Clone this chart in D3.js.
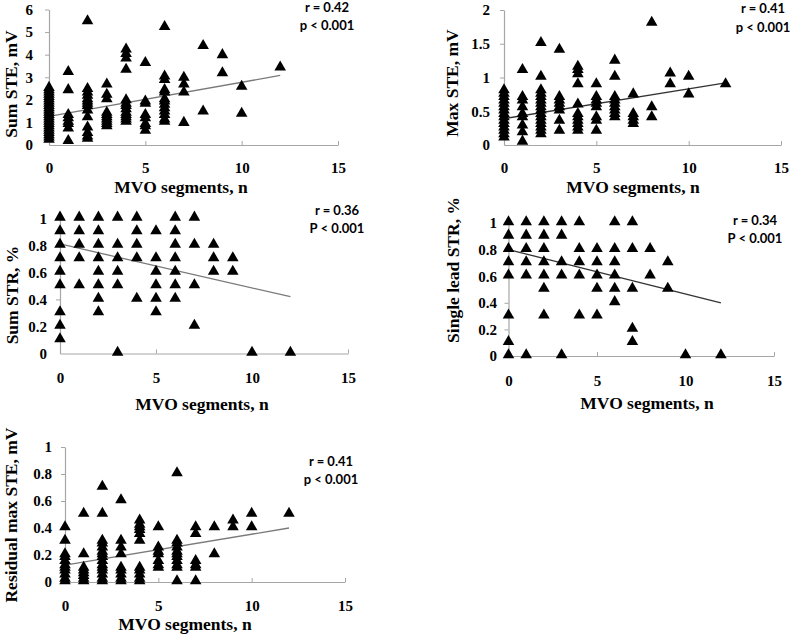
<!DOCTYPE html>
<html>
<head>
<meta charset="utf-8">
<script src="https://cdn.jsdelivr.net/npm/d3@7"></script>
<style>
  html, body { margin: 0; padding: 0; background: #fff; }
  svg { display: block; }
  .tick text { font-family: "Liberation Serif", "Times New Roman", serif; font-weight: bold; font-size: 15px; fill: #000; }
  .ttl { font-family: "Liberation Serif", "Times New Roman", serif; font-weight: bold; font-size: 17.5px; fill: #000; }
  .stat { font-family: Lato, "Open Sans", sans-serif; font-weight: bold; font-size: 13px; fill: #000; }
</style>
</head>
<body>
<svg id="chart" width="800" height="635"></svg>
<script>
// ---------------- DATA (x = MVO segments, values listed per x column) ----------------
const xTickValues = [0, 5, 10, 15];
const xAxisTitle = "MVO segments, n";

const sumSTE = [
  [0, [0.2,0.3,0.4,0.5,0.6,0.7,0.8,0.9,1.0,1.1,1.2,1.3,1.4,1.5,1.6,1.7,1.8,1.9,2.0,2.1,2.2,2.3,2.4,2.5]],
  [1, [3.2,2.4,1.3,1.15,1.0,0.9,0.7,0.15]],
  [2, [5.45,2.45,2.3,2.15,2.0,1.9,1.8,1.7,1.5,1.2,0.75,0.5,0.35,0.25]],
  [3, [2.65,2.2,2.0,1.4,1.3,1.2,1.1,1.0,0.9,0.8]],
  [4, [4.2,4.0,3.8,3.3,1.95,1.8,1.7,1.55,1.4,1.3,1.2,1.1,1.0]],
  [5, [3.6,1.9,1.8,1.3,1.15,0.9,0.8,0.6]],
  [6, [5.2,3.0,2.85,2.4,2.3,2.0,1.9,1.75,1.6,1.45,1.3,1.1,1.0]],
  [7, [2.95,2.65,2.3,0.95]],
  [8, [4.35,1.45]],
  [9, [3.95,3.15]],
  [10, [2.55,1.35]],
  [12, [3.4]]
];
const maxSTE = [
  [0, [0.1,0.15,0.2,0.25,0.3,0.35,0.4,0.45,0.5,0.55,0.6,0.65,0.7,0.75,0.8]],
  [1, [1.1,0.7,0.65,0.55,0.45,0.4,0.28,0.18,0.04]],
  [2, [1.5,1.0,0.8,0.75,0.7,0.65,0.6,0.55,0.5,0.45,0.4,0.35,0.3,0.25,0.2,0.15]],
  [3, [1.4,0.7,0.65,0.6,0.55,0.5,0.35,0.2]],
  [4, [1.15,1.1,1.04,0.89,0.59,0.45,0.4,0.35,0.3,0.25,0.2]],
  [5, [0.89,0.7,0.65,0.6,0.55,0.4,0.35,0.2]],
  [6, [1.24,1.0,0.7,0.65,0.6,0.55,0.5,0.45,0.4]],
  [7, [0.74,0.45,0.4,0.35,0.3]],
  [8, [1.8,0.55,0.4]],
  [9, [1.05,0.89]],
  [10, [1.0,0.74]],
  [12, [0.89]]
];
const sumSTR = [
  [0, [1,0.9,0.8,0.7,0.6,0.5,0.3,0.2,0.1]],
  [1, [1,0.9,0.8,0.7,0.5]],
  [2, [1,0.9,0.8,0.7,0.6,0.5,0.4,0.3]],
  [3, [1,0.8,0.7,0.6,0.5,0]],
  [4, [1,0.9,0.8,0.7,0.4]],
  [5, [0.9,0.7,0.6,0.5,0.4,0.3]],
  [6, [1,0.9,0.8,0.7,0.6,0.5,0.4]],
  [7, [1,0.8,0.5,0.2]],
  [8, [0.8,0.7,0.6]],
  [9, [0.7,0.6]],
  [10, [0]],
  [12, [0]]
];
const singleLeadSTR = [
  [0, [1,0.9,0.8,0.7,0.6,0.3,0.1,0]],
  [1, [1,0.9,0.8,0.7,0.6,0]],
  [2, [1,0.9,0.8,0.7,0.6,0.5,0.3]],
  [3, [1,0.9,0.7,0.6,0]],
  [4, [1,0.8,0.7,0.6,0.3]],
  [5, [0.8,0.7,0.6,0.5,0.3]],
  [6, [1,0.8,0.7,0.6,0.5,0.4]],
  [7, [1,0.8,0.5,0.2,0.1]],
  [8, [0.8,0.6]],
  [9, [0.7,0.5]],
  [10, [0]],
  [12, [0]]
];
const residualMaxSTE = [
  [0, [0.4,0.3,0.2,0.18,0.15,0.12,0.1,0.08,0.05,0.02,0]],
  [1, [0.5,0.2,0.1,0.08,0.06,0.04,0.02,0]],
  [2, [0.7,0.5,0.3,0.28,0.25,0.22,0.2,0.18,0.15,0.12,0.1,0.08,0.05,0.02,0]],
  [3, [0.6,0.3,0.25,0.2,0.1,0.08,0.05,0.02,0]],
  [4, [0.45,0.42,0.4,0.38,0.35,0.3,0.1,0.08,0.05,0.02,0]],
  [5, [0.4,0.25,0.22,0.2,0.15,0.12,0.1]],
  [6, [0.8,0.3,0.28,0.25,0.22,0.2,0.18,0.15,0.12,0.1,0]],
  [7, [0.4,0.35,0.15,0.12,0.1,0]],
  [8, [0.4,0.2]],
  [9, [0.45,0.4]],
  [10, [0.5,0.4]],
  [12, [0.5]]
];
// fitted regression lines: [x, y] at both ends
const sumSTEFit = [[0, 1.27], [12, 3.08]];
const maxSTEFit = [[0, 0.39], [12, 0.92]];
const sumSTRFit = [[0, 0.81], [12, 0.42]];
const singleLeadSTRFit = [[0, 0.80], [12, 0.40]];
const residualMaxSTEFit = [[0, 0.125], [12, 0.40]];

const yTicksSTE = [0,1,2,3,4,5,6];
const yTicksMax = [0,0.5,1,1.5,2];
const yTicksFrac = [0,0.2,0.4,0.6,0.8,1];

const yTitles = ["Sum STE, mV", "Max STE, mV", "Sum STR, %", "Single lead STR, %", "Residual max STE, mV"];
const rLabels = ["r = 0.42", "r = 0.41", "r = 0.36", "r = 0.34", "r = 0.41"];
const pLabels = ["p < 0.001", "p < 0.001", "P < 0.001", "P < 0.001", "p < 0.001"];

// ---------------- LAYOUT ----------------
const panels = [
  {data: sumSTE, fit: sumSTEFit, yTicks: yTicksSTE, ymax: 6,
   x0: 49, x1: 338, y0: 145, y1: 9.5, labelRight: 33, tickCy: 168,
   yTitleX: 11, yTitleCy: 84, xTitleCx: 181, xTitleCy: 187, statCx: 327, rCy: 7.5, pCy: 25, lineColor: "#7a7a7a"},
  {data: maxSTE, fit: maxSTEFit, yTicks: yTicksMax, ymax: 2,
   x0: 504, x1: 781, y0: 145, y1: 10, labelRight: 490, tickCy: 168,
   yTitleX: 452, yTitleCy: 83, xTitleCx: 633, xTitleCy: 187, statCx: 763, rCy: 8.5, pCy: 27, lineColor: "#333"},
  {data: sumSTR, fit: sumSTRFit, yTicks: yTicksFrac, ymax: 1,
   x0: 60, x1: 348, y0: 353.5, y1: 218.3, labelRight: 47, tickCy: 378,
   yTitleX: 12, yTitleCy: 295, xTitleCx: 202, xTitleCy: 404, statCx: 337, rCy: 210, pCy: 228, lineColor: "#7a7a7a"},
  {data: singleLeadSTR, fit: singleLeadSTRFit, yTicks: yTicksFrac, ymax: 1,
   x0: 508.5, x1: 774, y0: 356, y1: 223, labelRight: 497, tickCy: 381,
   yTitleX: 453, yTitleCy: 270, xTitleCx: 647, xTitleCy: 403, statCx: 755, rCy: 220, pCy: 238, lineColor: "#333"},
  {data: residualMaxSTE, fit: residualMaxSTEFit, yTicks: yTicksFrac, ymax: 1,
   x0: 65, x1: 345, y0: 582, y1: 447, labelRight: 52, tickCy: 606,
   yTitleX: 11, yTitleCy: 515, xTitleCx: 185, xTitleCy: 624, statCx: 331, rCy: 461, pCy: 479, lineColor: "#7a7a7a"}
];

const svg = d3.select("#chart");
const FS = 15, TFS = 17.5;
const fmt = d => String(+d.toFixed(2));
const tri = d3.symbol().type(d3.symbolTriangle).size(58);

panels.forEach((p, i) => {
  const g = svg.append("g");
  const x = d3.scaleLinear().domain([0, 15]).range([p.x0, p.x1]);
  const y = d3.scaleLinear().domain([0, p.ymax]).range([p.y0, p.y1]);

  // x axis
  const xa = g.append("g").attr("transform", `translate(0,${p.y0})`)
    .call(d3.axisBottom(x).tickValues(xTickValues).tickFormat(d3.format("d"))
      .tickSizeInner(-4).tickSizeOuter(0).tickPadding(p.tickCy - p.y0 - 0.38 * FS));
  // y axis
  const ya = g.append("g").attr("transform", `translate(${p.x0},0)`)
    .call(d3.axisLeft(y).tickValues(p.yTicks).tickFormat(fmt)
      .tickSizeInner(4).tickSizeOuter(0).tickPadding(p.x0 - 4 - p.labelRight));
  [xa, ya].forEach(a => {
    a.select(".domain").attr("stroke", "#a6a6a6").attr("stroke-width", 1.2);
    a.selectAll(".tick line").attr("stroke", "#a6a6a6");
  });
  ya.selectAll(".tick line").filter(d => d === 0).remove();

  // regression line
  g.append("line")
    .attr("x1", x(p.fit[0][0])).attr("y1", y(p.fit[0][1]))
    .attr("x2", x(p.fit[1][0])).attr("y2", y(p.fit[1][1]))
    .attr("stroke", p.lineColor).attr("stroke-width", 1.3);

  // points
  const pts = p.data.flatMap(([xv, ys]) => ys.map(v => ({x: xv, y: v})));
  g.selectAll("path.pt").data(pts).join("path").attr("class", "pt")
    .attr("d", tri)
    .attr("transform", d => `translate(${x(d.x)},${y(d.y) - 1})`)
    .attr("fill", "#000");

  // titles
  g.append("text").attr("class", "ttl").attr("text-anchor", "middle")
    .attr("x", p.xTitleCx).attr("y", p.xTitleCy + 0.33 * TFS).text(xAxisTitle);
  g.append("text").attr("class", "ttl").attr("text-anchor", "middle")
    .attr("transform", `translate(${p.yTitleX + 0.33 * TFS},${p.yTitleCy}) rotate(-90)`).text(yTitles[i]);

  // stats
  g.append("text").attr("class", "stat").attr("text-anchor", "middle")
    .attr("x", p.statCx).attr("y", p.rCy + 4.5).text(rLabels[i]);
  g.append("text").attr("class", "stat").attr("text-anchor", "middle")
    .attr("x", p.statCx).attr("y", p.pCy + 4.5).text(pLabels[i]);
});
</script>
</body>
</html>
